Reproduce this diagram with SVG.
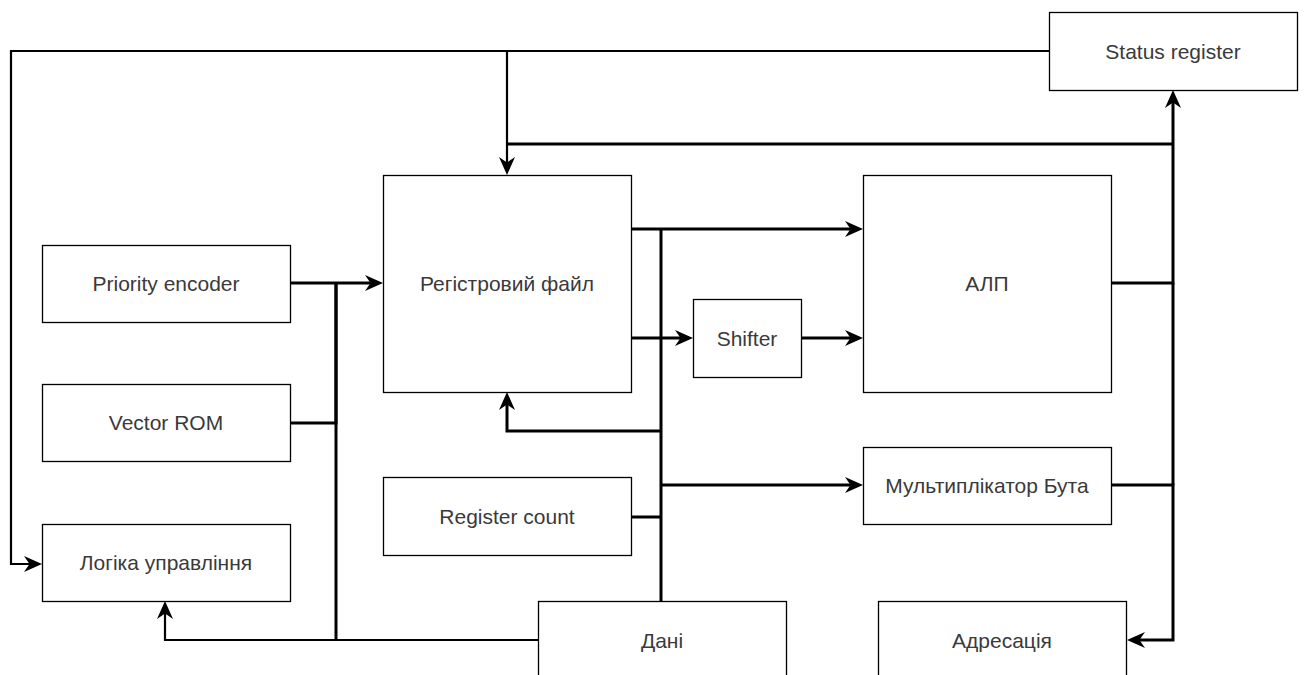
<svg xmlns="http://www.w3.org/2000/svg" width="1304" height="675" viewBox="0 0 1304 675">
  <style>
    .box { fill: #ffffff; stroke: #000000; stroke-width: 1.3; }
    .lbl { font-family: "Liberation Sans", Arial, sans-serif; font-size: 21px; fill: #3a3a3a; text-anchor: middle; }
    .wire { fill: none; stroke: #000000; stroke-width: 3; stroke-linejoin: miter; }
    .wire-thin { fill: none; stroke: #000000; stroke-width: 2.2; stroke-linejoin: miter; }
    .arr { marker-end: url(#head); }
  </style>
  <defs>
    <marker id="head" viewBox="0 0 18 18" markerUnits="userSpaceOnUse" markerWidth="18" markerHeight="18" refX="11" refY="9" orient="auto">
      <path d="M0,1 L18,9 L0,17 L5.5,9 Z" fill="#000000"/>
    </marker>
  </defs>

  <rect width="1304" height="675" fill="#ffffff"/>

  <!-- connectors -->
  <g id="connectors">
    <!-- status feedback to control logic -->
    <path class="wire-thin arr" d="M1049,51 H11 V564 H35"/>
    <!-- status feedback into register file -->
    <path class="wire-thin arr" d="M507,51 V168"/>
    <path class="wire" d="M1173,144 H507"/>
    <!-- ALU result bus -->
    <path class="wire arr" d="M1111,283 H1173 V97"/>
    <path class="wire" d="M1173,283 V485"/>
    <path class="wire arr" d="M1111,485 H1173 V640 H1134"/>
    <!-- inputs to register file -->
    <path class="wire arr" d="M290,283 H376"/>
    <path class="wire" d="M290,423 H336 V283"/>
    <path class="wire" d="M336,283 V640"/>
    <path class="wire-thin arr" d="M538,640 H165 V608"/>
    <!-- register file outputs -->
    <path class="wire arr" d="M631,229 H856"/>
    <path class="wire arr" d="M631,338 H686"/>
    <path class="wire arr" d="M801,338 H856"/>
    <!-- data bus -->
    <path class="wire" d="M661,229 V601"/>
    <path class="wire arr" d="M661,431 H507 V399"/>
    <path class="wire arr" d="M661,485 H856"/>
    <path class="wire" d="M631,517 H661"/>
  </g>

  <g id="status-register">
    <rect class="box" x="1049.5" y="12.5" width="248" height="78"/>
    <text class="lbl" x="1173" y="59">Status register</text>
  </g>
  <g id="register-file">
    <rect class="box" x="383.5" y="175.5" width="248" height="217"/>
    <text class="lbl" x="507" y="291">Регістровий файл</text>
  </g>
  <g id="alu">
    <rect class="box" x="863.5" y="175.5" width="248" height="217"/>
    <text class="lbl" x="987" y="291">АЛП</text>
  </g>
  <g id="shifter">
    <rect class="box" x="693.5" y="299.5" width="108" height="78"/>
    <text class="lbl" x="747" y="346">Shifter</text>
  </g>
  <g id="priority-encoder">
    <rect class="box" x="42.5" y="245.5" width="248" height="77"/>
    <text class="lbl" x="166" y="291">Priority encoder</text>
  </g>
  <g id="vector-rom">
    <rect class="box" x="42.5" y="384.5" width="248" height="77"/>
    <text class="lbl" x="166" y="430">Vector ROM</text>
  </g>
  <g id="control-logic">
    <rect class="box" x="42.5" y="524.5" width="248" height="77"/>
    <text class="lbl" x="166" y="570">Логіка управління</text>
  </g>
  <g id="register-count">
    <rect class="box" x="383.5" y="477.5" width="248" height="78"/>
    <text class="lbl" x="507" y="524">Register count</text>
  </g>
  <g id="booth-multiplier">
    <rect class="box" x="863.5" y="447.5" width="248" height="77"/>
    <text class="lbl" x="987" y="493">Мультиплікатор Бута</text>
  </g>
  <g id="data">
    <rect class="box" x="538.5" y="601.5" width="248" height="78"/>
    <text class="lbl" x="662" y="648">Дані</text>
  </g>
  <g id="addressing">
    <rect class="box" x="878.5" y="601.5" width="248" height="78"/>
    <text class="lbl" x="1002" y="648">Адресація</text>
  </g>
</svg>
